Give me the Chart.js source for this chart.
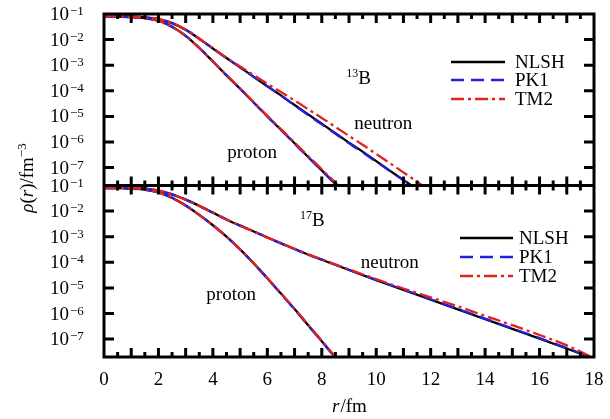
<!DOCTYPE html>
<html>
<head>
<meta charset="utf-8">
<script src="https://cdn.jsdelivr.net/npm/chart.js@4.4.0/dist/chart.umd.min.js"></script>
<style>
  html, body { margin: 0; padding: 0; background: #fff; }
</style>
</head>
<body>
<canvas id="rho" width="610" height="419"></canvas>
<script>
// radial grids (fm)
const rProton = [0, 0.5, 1, 1.5, 2, 2.5, 3, 3.5, 4, 4.5, 5, 5.5, 6, 6.5, 7, 7.5, 8, 8.5, 9];
const rNeutron13 = [0, 0.5, 1, 1.5, 2, 2.5, 3, 3.5, 4, 4.5, 5, 5.5, 6, 6.5, 7, 7.5, 8, 8.5, 9, 9.5, 10, 10.5, 11, 11.5, 12];
const rNeutron17 = [0, 0.5, 1, 1.5, 2, 2.5, 3, 3.5, 4, 4.5, 5, 5.5, 6, 6.5, 7, 7.5, 8, 9, 10, 11, 12, 13, 14, 15, 16, 17, 18];

// 13B densities (fm^-3)
const p13NLSH = [7.9e-2, 7.9e-2, 7.6e-2, 6.9e-2, 5.5e-2, 3.2e-2, 1.4e-2, 4.7e-3, 1.4e-3, 4.0e-4, 1.2e-4, 3.5e-5, 1.0e-5, 3.0e-6, 8.9e-7, 2.6e-7, 7.8e-8, 2.3e-8, 6.8e-9];
const p13PK1  = [7.8e-2, 7.8e-2, 7.5e-2, 6.8e-2, 5.4e-2, 3.2e-2, 1.4e-2, 4.8e-3, 1.4e-3, 4.0e-4, 1.2e-4, 3.4e-5, 1.0e-5, 2.95e-6, 8.7e-7, 2.55e-7, 7.6e-8, 2.25e-8, 6.6e-9];
const p13TM2  = [8.1e-2, 8.1e-2, 7.8e-2, 7.0e-2, 5.5e-2, 3.1e-2, 1.4e-2, 4.6e-3, 1.4e-3, 4.1e-4, 1.25e-4, 3.6e-5, 1.05e-5, 3.2e-6, 9.6e-7, 2.85e-7, 8.6e-8, 2.6e-8, 7.7e-9];
const n13NLSH = [8.3e-2, 8.3e-2, 7.9e-2, 7.4e-2, 6.3e-2, 4.4e-2, 2.4e-2, 1.07e-2, 4.5e-3, 1.9e-3, 8.3e-4, 3.5e-4, 1.5e-4, 6.6e-5, 2.8e-5, 1.2e-5, 5.2e-6, 2.2e-6, 9.5e-7, 4.2e-7, 1.8e-7, 7.6e-8, 3.3e-8, 1.4e-8, 6.0e-9];
const n13PK1  = [8.2e-2, 8.2e-2, 7.8e-2, 7.3e-2, 6.2e-2, 4.4e-2, 2.4e-2, 1.07e-2, 4.5e-3, 1.9e-3, 8.2e-4, 3.5e-4, 1.5e-4, 6.4e-5, 2.7e-5, 1.12e-5, 4.9e-6, 2.1e-6, 8.9e-7, 3.9e-7, 1.7e-7, 7.4e-8, 3.2e-8, 1.4e-8, 6.0e-9];
const n13TM2  = [8.4e-2, 8.4e-2, 8.0e-2, 7.5e-2, 6.4e-2, 4.5e-2, 2.5e-2, 1.1e-2, 4.6e-3, 1.95e-3, 8.9e-4, 4.1e-4, 1.9e-4, 8.9e-5, 4.2e-5, 1.9e-5, 8.7e-6, 3.9e-6, 1.74e-6, 7.8e-7, 3.4e-7, 1.5e-7, 6.5e-8, 2.8e-8, 1.2e-8];

// 17B densities (fm^-3)
const p17NLSH = [7.9e-2, 7.9e-2, 7.6e-2, 6.9e-2, 5.4e-2, 3.3e-2, 1.66e-2, 7.1e-3, 2.8e-3, 1.0e-3, 3.2e-4, 9.1e-5, 2.4e-5, 6.0e-6, 1.5e-6, 3.5e-7, 8.3e-8, 1.9e-8, 4.4e-9];
const p17PK1  = [7.8e-2, 7.8e-2, 7.5e-2, 6.8e-2, 5.3e-2, 3.3e-2, 1.65e-2, 7.1e-3, 2.8e-3, 1.0e-3, 3.15e-4, 9.0e-5, 2.35e-5, 5.9e-6, 1.45e-6, 3.4e-7, 8.1e-8, 1.85e-8, 4.3e-9];
const p17TM2  = [8.1e-2, 8.1e-2, 7.8e-2, 7.0e-2, 5.4e-2, 3.2e-2, 1.62e-2, 7.0e-3, 2.75e-3, 1.0e-3, 3.2e-4, 9.2e-5, 2.45e-5, 6.2e-6, 1.55e-6, 3.7e-7, 8.7e-8, 2.0e-8, 4.6e-9];
const n17NLSH = [8.5e-2, 8.5e-2, 8.1e-2, 7.6e-2, 6.3e-2, 4.5e-2, 2.8e-2, 1.6e-2, 8.7e-3, 4.7e-3, 2.7e-3, 1.6e-3, 9.3e-4, 5.5e-4, 3.3e-4, 2.0e-4, 1.26e-4, 5.0e-5, 2.0e-5, 8.3e-6, 3.5e-6, 1.45e-6, 6.0e-7, 2.5e-7, 1.05e-7, 4.3e-8, 1.7e-8];
const n17PK1  = [8.4e-2, 8.4e-2, 8.0e-2, 7.5e-2, 6.2e-2, 4.5e-2, 2.8e-2, 1.6e-2, 8.7e-3, 4.7e-3, 2.7e-3, 1.6e-3, 9.3e-4, 5.5e-4, 3.3e-4, 2.0e-4, 1.27e-4, 5.1e-5, 2.05e-5, 8.6e-6, 3.6e-6, 1.5e-6, 6.3e-7, 2.6e-7, 1.1e-7, 4.5e-8, 1.75e-8];
const n17TM2  = [8.6e-2, 8.6e-2, 8.2e-2, 7.7e-2, 6.4e-2, 4.6e-2, 2.8e-2, 1.6e-2, 8.8e-3, 4.7e-3, 2.7e-3, 1.6e-3, 9.4e-4, 5.6e-4, 3.4e-4, 2.05e-4, 1.3e-4, 5.3e-5, 2.2e-5, 9.5e-6, 4.3e-6, 1.9e-6, 8.1e-7, 3.5e-7, 1.45e-7, 5.7e-8, 1.8e-8];

// axes
const xTicks = [0, 2, 4, 6, 8, 10, 12, 14, 16, 18];
const yTicks = [1e-1, 1e-2, 1e-3, 1e-4, 1e-5, 1e-6, 1e-7];
const yTickExp = ['\u22121', '\u22122', '\u22123', '\u22124', '\u22125', '\u22126', '\u22127'];
const models = ['NLSH', 'PK1', 'TM2'];

const serif = '"Liberation Serif", "DejaVu Serif", serif';
const styles = {
    NLSH: { color: '#000000', dash: [], order: 2 },
    PK1:  { color: '#1f22e6', dash: [13, 7], order: 1 },
    TM2:  { color: '#e3221e', dash: [13, 4, 3, 4], order: 0 }
};

function pts(rs, vs) {
    return rs.map((r, i) => ({ x: r, y: vs[i] }));
}

function line(model, rs, vs, axis) {
    let s = styles[model];
    return {
        label: model,
        data: pts(rs, vs),
        yAxisID: axis,
        borderColor: s.color,
        borderDash: s.dash,
        borderWidth: 2.3,
        pointRadius: 0,
        cubicInterpolationMode: 'monotone',
        order: s.order
    };
}

const datasets = [
    line('NLSH', rProton, p13NLSH, 'yTop'),
    line('PK1', rProton, p13PK1, 'yTop'),
    line('TM2', rProton, p13TM2, 'yTop'),
    line('NLSH', rNeutron13, n13NLSH, 'yTop'),
    line('PK1', rNeutron13, n13PK1, 'yTop'),
    line('TM2', rNeutron13, n13TM2, 'yTop'),
    line('NLSH', rProton, p17NLSH, 'yBot'),
    line('PK1', rProton, p17PK1, 'yBot'),
    line('TM2', rProton, p17TM2, 'yBot'),
    line('NLSH', rNeutron17, n17NLSH, 'yBot'),
    line('PK1', rNeutron17, n17PK1, 'yBot'),
    line('TM2', rNeutron17, n17TM2, 'yBot')
];

function hiddenAxis(extra) {
    return Object.assign({
        ticks: { display: false },
        grid: { display: false, drawTicks: false },
        border: { display: false }
    }, extra);
}

function text(ctx, str, x, y, size, italic, align) {
    ctx.font = (italic ? 'italic ' : '') + size + 'px ' + serif;
    ctx.textAlign = align || 'left';
    ctx.fillText(str, x, y);
    return ctx.measureText(str).width;
}

function legend(ctx, x0, x1, xt, ys) {
    models.forEach((m, i) => {
        let s = styles[m];
        ctx.save();
        ctx.strokeStyle = s.color;
        ctx.lineWidth = 2.3;
        ctx.setLineDash(s.dash);
        ctx.beginPath();
        ctx.moveTo(x0, ys[i]);
        ctx.lineTo(x1, ys[i]);
        ctx.stroke();
        ctx.restore();
        text(ctx, m, xt, ys[i] + 6, 19);
    });
}

const frame = {
    id: 'frame',
    afterDraw(chart) {
        const ctx = chart.ctx;
        const x = chart.scales.x, yT = chart.scales.yTop, yB = chart.scales.yBot;
        ctx.save();
        ctx.fillStyle = '#000';
        ctx.strokeStyle = '#000';
        ctx.lineWidth = 3;
        ctx.textBaseline = 'alphabetic';

        ctx.beginPath();
        [yT, yB].forEach(y => {
            for (let k = 1; k < 36; k++) {
                let px = x.getPixelForValue(k / 2);
                let len = k % 2 === 0 ? 9 : 5;
                ctx.moveTo(px, y.top); ctx.lineTo(px, y.top + len);
                ctx.moveTo(px, y.bottom); ctx.lineTo(px, y.bottom - len);
            }
            yTicks.forEach(v => {
                let py = y.getPixelForValue(v);
                if (py - y.top < 3) return;
                ctx.moveTo(x.left, py); ctx.lineTo(x.left + 10, py);
                ctx.moveTo(x.right, py); ctx.lineTo(x.right - 10, py);
            });
        });
        ctx.stroke();
        ctx.strokeRect(x.left, yT.top, x.right - x.left, yB.bottom - yT.top);
        ctx.beginPath();
        ctx.moveTo(x.left, yT.bottom); ctx.lineTo(x.right, yT.bottom);
        ctx.stroke();

        // tick labels
        [yT, yB].forEach(y => {
            yTicks.forEach((v, i) => {
                let py = y.getPixelForValue(v);
                let w = text(ctx, '10', 50, py + 6, 19);
                text(ctx, yTickExp[i], 50 + w + 1, py + 1, 13);
            });
        });
        xTicks.forEach(v => {
            text(ctx, String(v), x.getPixelForValue(v), 385, 19, false, 'center');
        });

        // axis titles
        let w1 = text(ctx, 'r', 0, -100, 19, true);
        let w2 = text(ctx, '/fm', 0, -100, 19);
        let tx = 349 - (w1 + w2) / 2;
        text(ctx, 'r', tx, 412, 19, true);
        text(ctx, '/fm', tx + w1 + 1, 412, 19);

        ctx.save();
        ctx.translate(33, 178);
        ctx.rotate(-Math.PI / 2);
        let parts = [['\u03c1', true, 19, 0], ['(', false, 19, 0], ['r', true, 19, 0], [')/fm', false, 19, 0], ['\u22123', false, 13, -7]];
        let total = 0;
        parts.forEach(p => { ctx.font = (p[1] ? 'italic ' : '') + p[2] + 'px ' + serif; total += ctx.measureText(p[0]).width; });
        let cx = -total / 2;
        parts.forEach(p => { cx += text(ctx, p[0], cx, p[3], p[2], p[1]); });
        ctx.restore();

        // panel annotations
        let a = text(ctx, '13', x.getPixelForValue(8.9), yT.getPixelForValue(3.2e-4) - 1, 12);
        text(ctx, 'B', x.getPixelForValue(8.9) + a, yT.getPixelForValue(3.2e-4) + 6, 19);
        text(ctx, 'neutron', x.getPixelForValue(10.26), yT.getPixelForValue(5.5e-6) + 6, 19, false, 'center');
        text(ctx, 'proton', x.getPixelForValue(5.44), yT.getPixelForValue(4.1e-7) + 6, 19, false, 'center');

        a = text(ctx, '17', x.getPixelForValue(7.2), yB.getPixelForValue(4.3e-3) - 1, 12);
        text(ctx, 'B', x.getPixelForValue(7.2) + a, yB.getPixelForValue(4.3e-3) + 6, 19);
        text(ctx, 'neutron', x.getPixelForValue(10.5), yB.getPixelForValue(1.07e-4) + 6, 19, false, 'center');
        text(ctx, 'proton', x.getPixelForValue(4.67), yB.getPixelForValue(6.0e-6) + 6, 19, false, 'center');

        legend(ctx, 451, 505, 515, [62, 80, 99]);
        legend(ctx, 460, 513, 519, [238, 257, 276]);
        ctx.restore();
    }
};

new Chart(document.getElementById('rho'), {
    type: 'line',
    data: { datasets: datasets },
    options: {
        responsive: false,
        animation: false,
        devicePixelRatio: 1,
        layout: { padding: { left: 104, right: 16, top: 14, bottom: 62 } },
        plugins: { legend: { display: false }, tooltip: { enabled: false } },
        scales: {
            x: hiddenAxis({ type: 'linear', min: 0, max: 18 }),
            yTop: hiddenAxis({ type: 'logarithmic', position: 'left', stack: 'rho', stackWeight: 1, weight: 1, min: 2e-8, max: 0.1 }),
            yBot: hiddenAxis({ type: 'logarithmic', position: 'left', stack: 'rho', stackWeight: 1, weight: 0, min: 2e-8, max: 0.1 })
        }
    },
    plugins: [frame]
});
</script>
</body>
</html>
